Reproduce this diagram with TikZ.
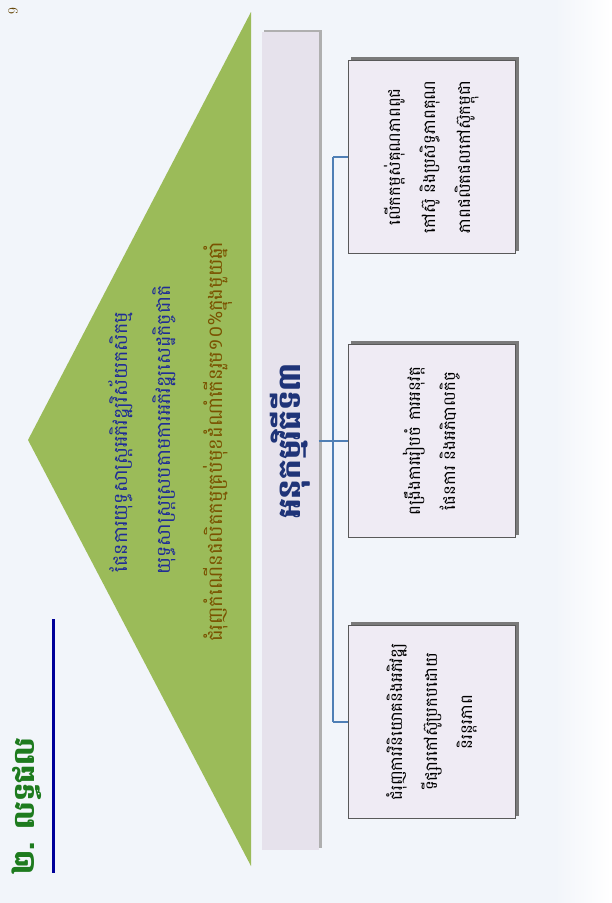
\documentclass[tikz,border=0pt]{standalone}
\usepackage{fontspec}
\newfontfamily\khmer[Script=Khmer]{Battambang}
\usetikzlibrary{calc}
\definecolor{pagebg}{HTML}{F2F5FA}
\definecolor{trigreen}{HTML}{9BBB59}
\definecolor{titlegreen}{HTML}{1E7B1E}
\definecolor{ruleblue}{HTML}{000099}
\definecolor{textblue}{HTML}{1F2C96}
\definecolor{barblue}{HTML}{1F3478}
\definecolor{textbrown}{HTML}{7A5200}
\definecolor{barfill}{HTML}{E6E2EC}
\definecolor{boxfill}{HTML}{EFEBF4}
\definecolor{connblue}{HTML}{4F7FB5}
\definecolor{shadowgray}{HTML}{7A7A7A}
\pgfdeclarelayer{shadowlayer}
\pgfsetlayers{shadowlayer,main}
\tikzset{
  vtext/.style={rotate=90, inner sep=0pt},
  barbox/.style={rotate=90, fill=barfill, minimum width=818pt, minimum height=57pt, inner sep=0pt,
    text=barblue, font=\khmer\bfseries\fontsize{31}{33}\selectfont},
  itembox/.style={rotate=90, fill=boxfill, draw=black!65, line width=0.8pt,
    minimum width=193pt, minimum height=167pt, inner sep=0pt, align=center,
    font=\khmer\fontsize{16.5}{35}\selectfont},
  conn/.style={draw=connblue, line width=1.3pt},
}
\begin{document}
\begin{tikzpicture}[x=1pt,y=-1pt]
\useasboundingbox (0,0) rectangle (611,903);
\begin{pgfonlayer}{shadowlayer}
\fill[pagebg] (0,0) rectangle (611,903);
\shade[left color=pagebg, right color=white] (555,0) rectangle (611,903);
\fill[trigreen] (28,440) -- (251,12) -- (251,866) -- cycle;
\end{pgfonlayer}

% page number and title
\node[vtext, text=textbrown!80!black, font=\fontsize{14}{15}\selectfont] (pnum) at (13,11) {9};
\node[vtext, text=titlegreen, font=\khmer\bfseries\fontsize{29}{32}\selectfont] (title) at (27,806) {២. លទ្ធផល};
\coordinate (ruletop) at (53,619);
\coordinate (rulebot) at (53,873);
\draw[ruleblue, line width=3pt] (ruletop) -- (rulebot);

% triangle texts
\node[vtext, text=textblue, font=\khmer\fontsize{19}{24}\selectfont] (goal1) at (121,442) {ផែនការយុទ្ធសាស្ត្រអភិវឌ្ឍវិស័យកសិកម្ម};
\node[vtext, text=textblue, font=\khmer\fontsize{19}{24}\selectfont] (goal2) at (164,430) {យុទ្ធសាស្ត្រស្របតាមការអភិវឌ្ឍសេដ្ឋកិច្ចជាតិ};
\node[vtext, text=textbrown, font=\khmer\fontsize{19.5}{24}\selectfont] (goal3) at (218,442) {ជំរុញកំណើនផលិតកម្មគ្រប់មុខដំណាំកើនរួម១០\%ក្នុងមួយឆ្នាំ};

% central bar
\node[barbox] (bar) at (290,441) {អនុកម្មវិធីទី៣};

% boxes
\node[itembox] (box3) at (432,157) {លើកកម្ពស់គុណភាពពូជ\\កៅស៊ូ និងប្រសិទ្ធភាពគុណ\\ភាពផលិតផលកៅស៊ូកម្ពុជា};
\node[itembox] (box2) at (432,441) {ពង្រឹងការរៀបចំ ការអនុវត្ត\\ផែនការ និងអភិបាលកិច្ច};
\node[itembox] (box1) at (432,722) {ជំរុញការវិនិយោគនិងអភិវឌ្ឍ\\ទីផ្សារកៅស៊ូប្រកបដោយ\\និរន្តរភាព};

% shadows
\begin{pgfonlayer}{shadowlayer}
\fill[shadowgray!60] ($(bar.south west)+(3,-2)$) rectangle ($(bar.north east)+(3,-2)$);
\foreach \b in {box1,box2,box3}{
  \fill[shadowgray] ($(\b.south west)+(3,-3)$) rectangle ($(\b.north east)+(3,-3)$);
}
\end{pgfonlayer}

% connectors
\draw[conn] (bar.south) -- (box2.north);
\draw[conn] (box3.north) -- ++(-15,0) coordinate (t3);
\draw[conn] (box1.north) -- ++(-15,0) coordinate (t1);
\draw[conn] (t3) -- (t1);
\end{tikzpicture}
\end{document}
